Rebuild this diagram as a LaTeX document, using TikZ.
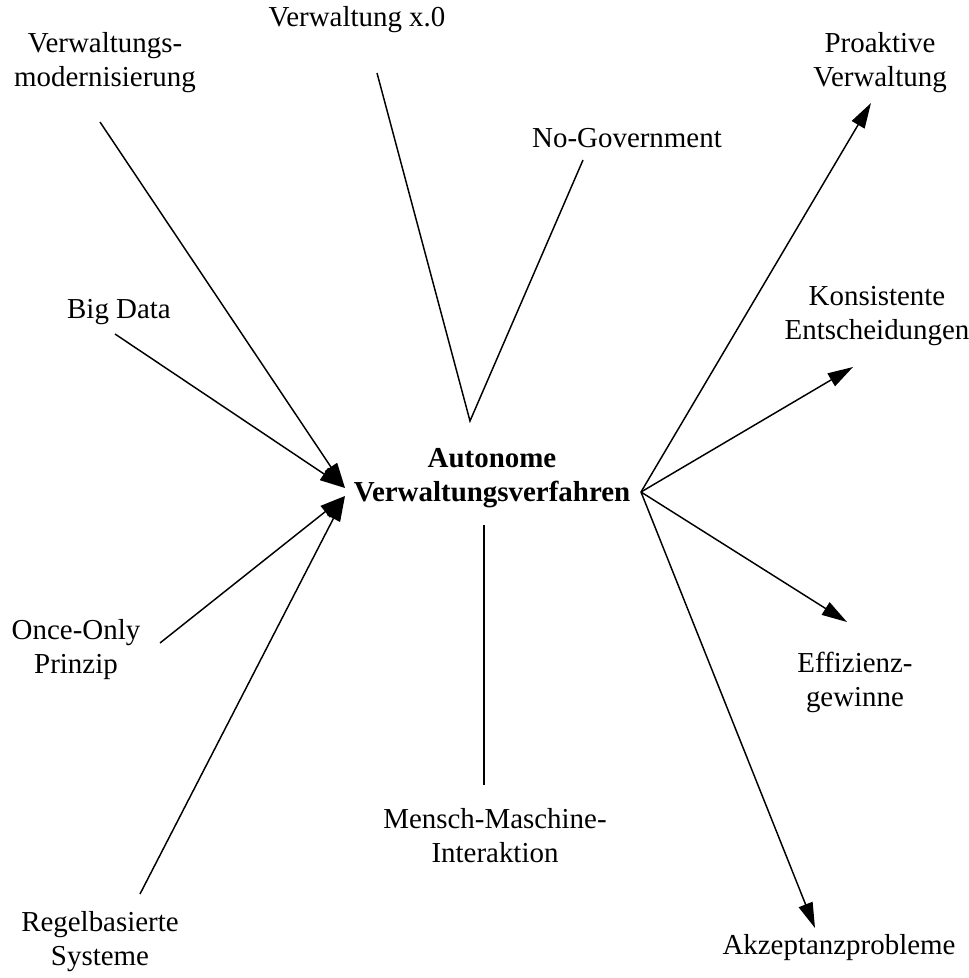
\documentclass[tikz,border=0pt]{standalone}
\usepackage{fontspec}
\setmainfont{Liberation Serif}
\usetikzlibrary{arrows.meta}

\begin{document}
\begin{tikzpicture}[x=0.75pt,y=-0.75pt,>={Triangle[length=19pt,width=11pt]},
  lbl/.style={align=center,inner sep=0pt,font=\fontsize{21.7}{25.5}\selectfont},
  pfeil/.style={line width=1.1pt,->},
  strich/.style={line width=1.1pt}]
  \useasboundingbox (0,0) rectangle (969,978);
  % centre
  \node[lbl,font=\fontsize{21.7}{25.5}\selectfont\bfseries] (zentrum) at (492,478) {Autonome\\Verwaltungsverfahren};
  % inputs
  \node[lbl] (modern) at (105,63) {Verwaltungs-\\modernisierung};
  \node[lbl] (bigdata) at (119,312) {Big Data};
  \node[lbl] (onceonly) at (76,650) {Once-Only\\Prinzip};
  \node[lbl] (regel) at (100,942) {Regelbasierte\\Systeme};
  % themes
  \node[lbl] (xnull) at (357,20) {Verwaltung x.0};
  \node[lbl] (nogov) at (627,138) {No-Government};
  \node[lbl] (mensch) at (495,836) {Mensch-Maschine-\\Interaktion};
  % outputs
  \node[lbl] (proaktiv) at (880,63) {Proaktive\\Verwaltung};
  \node[lbl] (konsist) at (877,316) {Konsistente\\Entscheidungen};
  \node[lbl] (effizienz) at (855,682) {Effizienz-\\gewinne};
  \node[lbl] (akzeptanz) at (839,948) {Akzeptanzprobleme};

  \coordinate (einoben) at (345,488);
  \coordinate (einunten) at (345,496);
  \coordinate (aus) at (641,492);
  \coordinate (spitze) at (470,421);
  \coordinate (modern-s) at (100,122);
  \coordinate (bigdata-s) at (115,334);
  \coordinate (onceonly-s) at (160,643);
  \coordinate (regel-s) at (140,894);
  \coordinate (xnull-s) at (377,73);
  \coordinate (nogov-s) at (583,160);
  \coordinate (mensch-o) at (484,525);
  \coordinate (mensch-u) at (484,785);
  \coordinate (proaktiv-s) at (871,103);
  \coordinate (konsist-s) at (853,367);
  \coordinate (effizienz-s) at (847,622);
  \coordinate (akzeptanz-s) at (815,928);

  \draw[pfeil] (modern-s) -- (einoben);
  \draw[pfeil] (bigdata-s) -- (einoben);
  \draw[pfeil] (onceonly-s) -- (einunten);
  \draw[pfeil] (regel-s) -- (einunten);
  \draw[strich] (xnull-s) -- (spitze) -- (nogov-s);
  \draw[strich] (mensch-o) -- (mensch-u);
  \draw[pfeil] (aus) -- (proaktiv-s);
  \draw[pfeil] (aus) -- (konsist-s);
  \draw[pfeil] (aus) -- (effizienz-s);
  \draw[pfeil] (aus) -- (akzeptanz-s);
\end{tikzpicture}
\end{document}
